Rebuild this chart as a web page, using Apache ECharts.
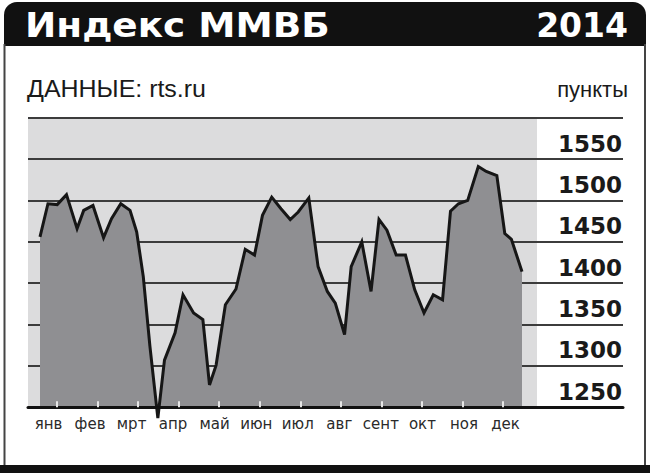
<!DOCTYPE html>
<html>
<head>
<meta charset="utf-8">
<script src="https://cdn.jsdelivr.net/npm/echarts@6/dist/echarts.min.js"></script>
<style>
html,body{margin:0;padding:0;background:#fff;}
#chart{width:650px;height:473px;}
</style>
</head>
<body>
<div id="chart"></div>
<script>
// ---- data ----
const titleText = 'Индекс ММВБ';
const yearText = '2014';
const sourceText = 'ДАННЫЕ: rts.ru';
const unitText = 'пункты';
const months = ['янв','фев','мрт','апр','май','июн','июл','авг','сент','окт','ноя','дек'];
// day of year of each observation (estimated)
const days = [1,7,14,21,29,34,41,49,55,62,69,74,79,84,90,95,103,109,117,124,129,134,141,149,156,163,169,176,183,190,196,204,211,218,224,231,236,244,251,257,263,270,277,284,291,298,305,311,317,324,332,338,346,352,357,365];
// index value (points)
const values = [1456,1496,1495,1507,1466,1488,1494,1455,1478,1496,1488,1462,1408,1324,1237,1307,1340,1386,1364,1356,1277,1301,1374,1393,1441,1434,1482,1504,1490,1477,1486,1503,1420,1390,1376,1338,1420,1450,1390,1477,1464,1434,1434,1392,1364,1386,1380,1487,1496,1500,1541,1535,1530,1460,1453,1414];
const yMin = 1250, yMax = 1600, yStep = 50;

const seriesData = days.map((d, i) => [d, values[i]]);

const chart = echarts.init(document.getElementById('chart'), null, {renderer: 'svg'});
const TOP = 117.7, BOTTOM = 473 - 407.3;
const hiddenY = (g) => ({type:'value', gridIndex:g, min:yMin, max:yMax, show:false});

chart.setOption({
  animation: false,
  backgroundColor: '#ffffff',
  grid: [
    {left: 28, right: 27, top: TOP, bottom: BOTTOM},                       // gridlines + y labels + axis line
    {left: 28, right: 113, top: TOP, bottom: BOTTOM, show: true, backgroundColor: '#dcdcdd', borderWidth: 0}, // plot bg
    {left: 40, right: 128, top: TOP, bottom: BOTTOM},                      // data
    {left: 27.7, right: 123.7, top: TOP, bottom: BOTTOM},                  // month labels
    {left: 57, right: 147, top: TOP, bottom: BOTTOM}                       // month ticks
  ],
  xAxis: [
    {type:'value', gridIndex:0, min:0, max:1, z:3,
     axisLine:{show:true, onZero:false, lineStyle:{color:'#111', width:3}},
     axisTick:{show:false}, axisLabel:{show:false}, splitLine:{show:false}},
    {type:'value', gridIndex:1, show:false},
    {type:'value', gridIndex:2, min:days[0], max:days[days.length-1], show:false},
    {type:'category', gridIndex:3, data:months, boundaryGap:true,
     axisLine:{show:false}, axisTick:{show:false},
     axisLabel:{interval:0, margin:9, fontSize:15, fontFamily:'DejaVu Sans', color:'#2a2a2a'}},
    {type:'category', gridIndex:4, data:months, boundaryGap:false, z:4,
     axisLine:{show:false}, axisLabel:{show:false},
     axisTick:{show:true, inside:true, length:6, interval:0, lineStyle:{color:'#e6e6e6', width:2}}}
  ],
  yAxis: [
    {type:'value', gridIndex:0, min:yMin, max:yMax, interval:yStep, position:'right',
     axisLine:{show:false}, axisTick:{show:false},
     splitLine:{show:true, lineStyle:{color:'#3c3c3c', width:2}},
     axisLabel:{inside:true, margin:1, align:'right', verticalAlign:'bottom', padding:[0,0,4,0],
       showMaxLabel:false,
       formatter: (v) => String(v),
       fontSize:23, fontWeight:'bold', fontFamily:"'DejaVu Sans'", color:'#1a1a1a'}},
    hiddenY(1), hiddenY(2), hiddenY(3), hiddenY(4)
  ],
  series: [{
    type:'line', xAxisIndex:2, yAxisIndex:2, data:seriesData,
    showSymbol:false, clip:false, z:2,
    lineStyle:{color:'#161616', width:3, join:'miter'},
    areaStyle:{color:'#8f8f92', opacity:1}
  }],
  graphic: [
    {type:'rect', z:10, shape:{x:4, y:2, width:642, height:44, r:[13,13,0,0]}, style:{fill:'#111'}},
    {type:'line', z:10, shape:{x1:4.5, y1:44, x2:4.5, y2:466}, style:{stroke:'#444', lineWidth:2}},
    {type:'line', z:10, shape:{x1:645, y1:44, x2:645, y2:466}, style:{stroke:'#444', lineWidth:2}},
    {type:'rect', z:10, shape:{x:0, y:465, width:650, height:8}, style:{fill:'#111'}},
    {type:'text', z:11, x:25, y:25, scaleX:1.1,
     style:{text:titleText, fill:'#fff', font:"bold 34px 'DejaVu Sans'", verticalAlign:'middle'}},
    {type:'text', z:11, x:628, y:25,
     style:{text:yearText, fill:'#fff', font:"bold 33px 'DejaVu Sans'", align:'right', verticalAlign:'middle'}},
    {type:'text', z:11, x:27, y:89, scaleX:1.04,
     style:{text:sourceText, fill:'#1a1a1a', font:"24px 'Liberation Sans'", verticalAlign:'middle'}},
    {type:'text', z:11, x:628, y:89,
     style:{text:unitText, fill:'#1a1a1a', font:"22px 'Liberation Sans'", align:'right', verticalAlign:'middle'}}
  ]
});
</script>
</body>
</html>
